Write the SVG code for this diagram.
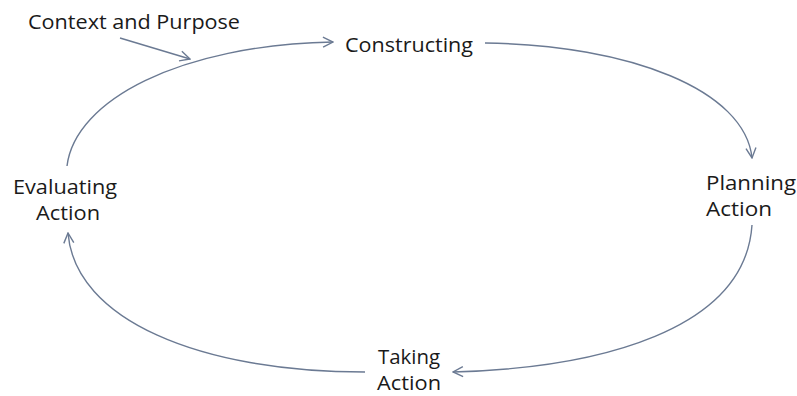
<svg xmlns="http://www.w3.org/2000/svg" width="797" height="396" viewBox="0 0 797 396">
<style>
text{font-family:"Open Sans","Liberation Sans",sans-serif;font-size:20px;fill:#1a1a1a}
.c{fill:none;stroke:#6b7a93;stroke-width:1.4}
</style>
<defs>
<marker id="ah" viewBox="0 0 12 12" refX="11" refY="6" markerWidth="12" markerHeight="12" markerUnits="userSpaceOnUse" orient="auto">
<path d="M1,1 L11,6 L1,11" fill="none" stroke="#6b7a93" stroke-width="1.4"/>
</marker>
</defs>
<rect width="797" height="396" fill="#fff"/>
<g id="connectors">
<path class="c" d="M120,38 L190,59" marker-end="url(#ah)"/>
<path class="c" d="M67,166 C75,100 180,45 333,42" marker-end="url(#ah)"/>
<path class="c" d="M485,43 C630,45 745,90 752,158" marker-end="url(#ah)"/>
<path class="c" d="M752,225 C745,330 600,368 453,372" marker-end="url(#ah)"/>
<path class="c" d="M365,372 C200,372 75,320 68,233" marker-end="url(#ah)"/>
</g>
<g id="context"><text x="28" y="29" textLength="212" lengthAdjust="spacingAndGlyphs">Context and Purpose</text></g>
<g id="constructing"><text x="345" y="52" textLength="128" lengthAdjust="spacingAndGlyphs">Constructing</text></g>
<g id="planning"><text x="706" y="190" textLength="90" lengthAdjust="spacingAndGlyphs">Planning</text><text x="706" y="216" textLength="66" lengthAdjust="spacingAndGlyphs">Action</text></g>
<g id="taking"><text x="378" y="364" textLength="62" lengthAdjust="spacingAndGlyphs">Taking</text><text x="377" y="390" textLength="64" lengthAdjust="spacingAndGlyphs">Action</text></g>
<g id="evaluating"><text x="13" y="194" textLength="104" lengthAdjust="spacingAndGlyphs">Evaluating</text><text x="36" y="220" textLength="64" lengthAdjust="spacingAndGlyphs">Action</text></g>
</svg>
